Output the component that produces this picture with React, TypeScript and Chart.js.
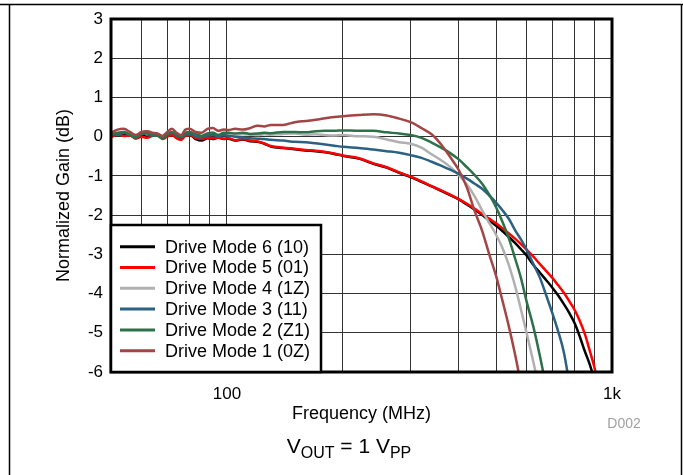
import React, { useEffect, useRef } from 'react';
import { Chart, registerables } from 'chart.js';

Chart.register(...registerables);

// ---- Data ----
const FREQ_MHZ = [
  50, 52, 54, 56, 58, 60, 62, 64, 66, 68, 70, 72, 74, 76, 78, 80,
  83, 86, 89, 92, 95, 98,
  101, 105, 110, 115, 120, 125, 130,
  140, 150, 160, 170, 180, 190, 200,
  220, 240, 260, 280, 300, 320, 340, 360, 380, 400, 420, 440, 460, 480, 500, 520, 540, 560, 580, 600,
  625, 650, 675, 700, 725, 750, 775, 800, 825, 850, 875, 900, 925,
];

const MODE6_10 = [
  0.05, 0.08, 0.04, 0.06, -0.03, 0.02, 0.0, 0.03, 0.05, -0.04, 0.02, 0.05, -0.02, -0.07, 0.04, 0.05,
  -0.06, -0.1, -0.04, -0.06, -0.02, -0.06,
  -0.05, -0.1, -0.07, -0.12, -0.13, -0.18, -0.25,
  -0.29, -0.32, -0.35, -0.37, -0.4, -0.44, -0.49,
  -0.56, -0.69, -0.79, -0.92, -1.03, -1.15, -1.27, -1.38, -1.49, -1.6, -1.73, -1.86, -2.0, -2.13, -2.27, -2.41, -2.56, -2.71, -2.87, -3.03,
  -3.27, -3.47, -3.66, -3.85, -4.05, -4.27, -4.5, -4.76, -5.1, -5.47, -5.8, -6.2, -6.6,
];

const MODE5_01 = [
  -0.02, 0.06, 0.02, 0.03, -0.05, 0.0, -0.03, 0.02, 0.03, -0.06, 0.0, 0.04, -0.04, -0.08, 0.02, 0.04,
  -0.03, -0.06, -0.02, -0.04, -0.03, -0.05,
  -0.04, -0.09, -0.06, -0.1, -0.12, -0.17, -0.24,
  -0.28, -0.31, -0.34, -0.36, -0.39, -0.43, -0.48,
  -0.55, -0.68, -0.78, -0.91, -1.02, -1.14, -1.26, -1.37, -1.48, -1.59, -1.71, -1.84, -1.97, -2.09, -2.21, -2.34, -2.47, -2.6, -2.74, -2.88,
  -3.06, -3.25, -3.43, -3.6, -3.79, -3.98, -4.2, -4.42, -4.7, -5.03, -5.45, -5.88, -6.4,
];

const MODE4_1Z = [
  0.1, 0.08, 0.12, 0.06, 0.04, 0.1, 0.14, 0.08, 0.07, 0.0, 0.08, 0.12, 0.04, 0.0, 0.1, 0.1,
  0.04, 0.02, 0.08, 0.1, 0.05, 0.08,
  0.06, 0.04, 0.06, 0.05, 0.04, 0.06, 0.05,
  0.07, 0.08, 0.05, 0.06, 0.04, 0.03, 0.04,
  0.01, 0.0, -0.07, -0.14, -0.18, -0.28, -0.45, -0.6, -0.77, -0.98, -1.22, -1.52, -1.88, -2.2, -2.5, -2.85, -3.28, -3.8, -4.4, -5.0,
  -5.75, -6.5, null, null, null, null, null, null, null, null, null, null, null,
];

const MODE3_11 = [
  0.08, 0.05, 0.1, 0.04, -0.02, 0.06, 0.08, 0.02, 0.04, -0.04, 0.05, 0.1, 0.02, -0.02, 0.06, 0.08,
  0.0, -0.02, 0.03, 0.05, 0.0, 0.04,
  0.02, 0.0, -0.02, -0.04, -0.05, -0.06, -0.08,
  -0.1, -0.13, -0.14, -0.17, -0.2, -0.23, -0.26,
  -0.29, -0.33, -0.37, -0.41, -0.47, -0.54, -0.64, -0.74, -0.84, -0.95, -1.07, -1.2, -1.33, -1.5, -1.68, -1.88, -2.1, -2.38, -2.62, -2.88,
  -3.25, -3.6, -4.05, -4.5, -4.97, -5.5, -6.3, -7.1, null, null, null, null, null,
];

const MODE2_Z1 = [
  0.06, 0.1, 0.12, 0.05, -0.02, 0.08, 0.1, 0.04, 0.02, -0.03, 0.06, 0.12, 0.04, 0.0, 0.1, 0.12,
  0.06, 0.02, 0.08, 0.1, 0.04, 0.1,
  0.1, 0.08, 0.1, 0.07, 0.08, 0.1, 0.09,
  0.12, 0.12, 0.11, 0.14, 0.15, 0.15, 0.16,
  0.15, 0.15, 0.11, 0.08, 0.04, -0.03, -0.15, -0.28, -0.42, -0.58, -0.78, -0.98, -1.2, -1.48, -1.8, -2.18, -2.6, -3.1, -3.6, -4.2,
  -4.85, -5.6, -6.4, -7.2, null, null, null, null, null, null, null, null, null,
];

const MODE1_0Z = [
  0.1, 0.18, 0.2, 0.12, 0.04, 0.12, 0.14, 0.1, 0.08, 0.02, 0.12, 0.2, 0.1, 0.04, 0.18, 0.2,
  0.12, 0.1, 0.2, 0.22, 0.15, 0.18,
  0.17, 0.2, 0.18, 0.22, 0.28, 0.26, 0.3,
  0.3, 0.37, 0.4, 0.43, 0.47, 0.5, 0.52,
  0.55, 0.57, 0.54, 0.46, 0.37, 0.22, 0.06, -0.2, -0.52, -0.85, -1.3, -1.9, -2.4, -3.0, -3.55, -4.2, -4.85, -5.55, -6.3, -7.0,
  null, null, null, null, null, null, null, null, null, null, null, null, null,
];

const SERIES_LABELS = [
  'Drive Mode 6 (10)',
  'Drive Mode 5 (01)',
  'Drive Mode 4 (1Z)',
  'Drive Mode 3 (11)',
  'Drive Mode 2 (Z1)',
  'Drive Mode 1 (0Z)',
];
const SERIES_VALUES = [MODE6_10, MODE5_01, MODE4_1Z, MODE3_11, MODE2_Z1, MODE1_0Z];
const SERIES_COLORS = ['#000000', '#ff0000', '#b0b0b0', '#2b6182', '#2d7149', '#a34545'];

const X_GRID_VALUES = [60, 70, 80, 90, 100, 200, 300, 400, 500, 600, 700, 800, 900, 1000];
const X_TICK_VALUES = [100, 1000];
const X_TICK_LABELS = ['100', '1k'];

const FONT = '"Liberation Sans", Arial, Helvetica, sans-serif';

const decorPlugin = {
  id: 'decor',
  afterDatasetsDraw(chart: any) {
    const { ctx, chartArea: a } = chart;
    ctx.save();
    // plot frame
    ctx.strokeStyle = '#000';
    ctx.lineWidth = 3;
    ctx.strokeRect(a.left, a.top, a.right - a.left, a.bottom - a.top);

    // legend box (inside plot, bottom-left)
    const lx = a.left;
    const ly = 225;
    const lr = 321;
    ctx.fillStyle = '#fff';
    ctx.fillRect(lx, ly, lr - lx, a.bottom - ly);
    ctx.lineWidth = 2.5;
    ctx.strokeRect(lx, ly, lr - lx, a.bottom - ly);

    ctx.font = `18px ${FONT}`;
    ctx.textBaseline = 'middle';
    ctx.textAlign = 'left';
    chart.data.datasets.forEach((ds: any, i: number) => {
      const y = 246.7 + i * 20.8;
      ctx.strokeStyle = ds.borderColor;
      ctx.lineWidth = 3;
      ctx.beginPath();
      ctx.moveTo(120, y);
      ctx.lineTo(155, y);
      ctx.stroke();
      ctx.fillStyle = '#000';
      ctx.fillText(ds.label, 165, y + 1);
    });
    ctx.restore();
  },
  afterDraw(chart: any) {
    const { ctx } = chart;
    ctx.save();
    // outer page frame
    ctx.strokeStyle = '#000';
    ctx.lineWidth = 1.5;
    ctx.beginPath();
    ctx.moveTo(0, 4.5);
    ctx.lineTo(683, 4.5);
    ctx.moveTo(9.5, 4.5);
    ctx.lineTo(9.5, 475);
    ctx.moveTo(681.5, 4.5);
    ctx.lineTo(681.5, 475);
    ctx.stroke();

    // D002 tag
    ctx.fillStyle = '#a0a0a0';
    ctx.font = `14px ${FONT}`;
    ctx.textAlign = 'center';
    ctx.textBaseline = 'alphabetic';
    ctx.fillText('D002', 624, 428);

    // V_OUT = 1 V_PP caption
    const big = `21px ${FONT}`;
    const small = `16px ${FONT}`;
    const parts: [string, string, number][] = [
      ['V', big, 0],
      ['OUT', small, 5],
      [' = 1 V', big, 0],
      ['PP', small, 5],
    ];
    let total = 0;
    for (const [t, f] of parts) {
      ctx.font = f;
      total += ctx.measureText(t).width;
    }
    let x = 349 - total / 2;
    ctx.fillStyle = '#000';
    ctx.textAlign = 'left';
    for (const [t, f, dy] of parts) {
      ctx.font = f;
      ctx.fillText(t, x, 453 + dy);
      x += ctx.measureText(t).width;
    }
    ctx.restore();
  },
};

export default function App() {
  const canvasRef = useRef<HTMLCanvasElement | null>(null);

  useEffect(() => {
    const canvas = canvasRef.current;
    if (!canvas) return;
    Chart.defaults.font.family = FONT;
    Chart.defaults.color = '#000';

    const datasets = SERIES_LABELS.map((label, i) => ({
      label,
      data: FREQ_MHZ.map((f, k) => ({ x: f, y: SERIES_VALUES[i][k] })),
      borderColor: SERIES_COLORS[i],
      backgroundColor: SERIES_COLORS[i],
      borderWidth: 2.5,
      pointRadius: 0,
      cubicInterpolationMode: 'monotone' as const,
      spanGaps: false,
      order: SERIES_LABELS.length - i,
    }));

    const chart = new Chart(canvas, {
      type: 'line',
      data: { datasets },
      plugins: [decorPlugin],
      options: {
        responsive: false,
        animation: false,
        layout: { padding: { left: 50, right: 71, top: 19, bottom: 50 } },
        plugins: {
          legend: { display: false },
          tooltip: { enabled: false },
        },
        scales: {
          x: {
            type: 'logarithmic',
            min: 50,
            max: 1000,
            afterBuildTicks: (s: any) => {
              s.ticks = X_GRID_VALUES.map((v) => ({ value: v }));
            },
            afterFit: (s: any) => {
              s.height = 53;
            },
            border: { display: false },
            grid: { color: '#333', lineWidth: 1, drawTicks: false },
            ticks: {
              autoSkip: false,
              maxRotation: 0,
              padding: 12,
              color: '#000',
              font: { size: 17 },
              callback: (v: any) => {
                const idx = X_TICK_VALUES.indexOf(Number(v));
                return idx >= 0 ? X_TICK_LABELS[idx] : '';
              },
            },
            title: {
              display: true,
              text: 'Frequency (MHz)',
              color: '#000',
              font: { size: 18 },
              padding: { top: 0, bottom: 0 },
            },
          },
          y: {
            min: -6,
            max: 3,
            afterFit: (s: any) => {
              s.width = 61;
            },
            border: { display: false },
            grid: { color: '#333', lineWidth: 1, drawTicks: false },
            ticks: {
              stepSize: 1,
              padding: 8,
              color: '#000',
              font: { size: 17 },
            },
            title: {
              display: true,
              text: 'Normalized Gain (dB)',
              color: '#000',
              font: { size: 18 },
              padding: { top: 3, bottom: 0 },
            },
          },
        },
      },
    });
    return () => chart.destroy();
  }, []);

  return (
    <canvas
      ref={canvasRef}
      width={683}
      height={475}
      style={{ position: 'absolute', left: 0, top: 0, width: 683, height: 475, display: 'block', background: '#fff' }}
    />
  );
}
